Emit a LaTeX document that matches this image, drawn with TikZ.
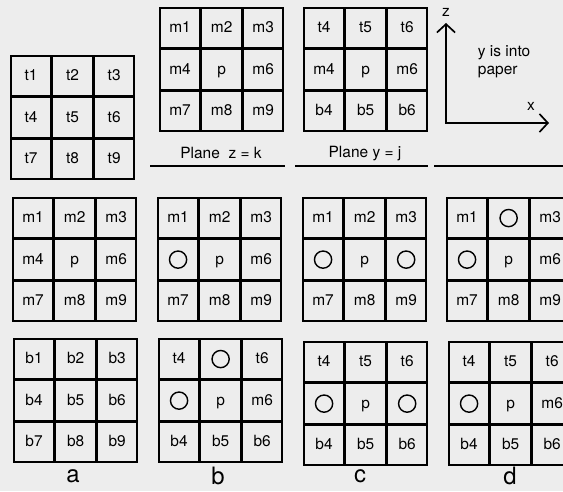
\documentclass[tikz,border=0pt]{standalone}
\usepackage{fontspec}
\setmainfont{TeX Gyre Heros}
\usepackage{tikz}
\usetikzlibrary{matrix, arrows.meta}

\begin{document}
\begin{tikzpicture}[
        x=0.025cm, y=-0.025cm,
        grid/.style={matrix of nodes, nodes in empty cells, anchor=north west,
            inner sep=0pt, column sep=0pt, row sep=0pt,
            nodes={draw, line width=1.1pt, minimum size=1cm, outer sep=0pt, inner sep=0pt,
                text height=1.6ex, text depth=0.3ex, font=\fontsize{11}{13}\selectfont}},
        hole/.style={circle, draw, line width=1pt, minimum size=0.43cm, inner sep=0pt},
        plane/.style={font=\fontsize{11}{13}\selectfont},
        tag/.style={font=\fontsize{17}{20}\selectfont},
        rule/.style={line width=1.2pt},
        axis/.style={line width=1.2pt, {Straight Barb[length=6pt, width=13pt]}-{Straight Barb[length=6pt, width=13pt]}}
    ]
        \useasboundingbox (0,0) rectangle (563,491);
        \fill[black!7] (0,0) rectangle (563,491);
        \clip (0,0) rectangle (563,491);

        % Planes
        \matrix[grid] (tp) at (10,55) {t1 & t2 & t3\\ t4 & t5 & t6\\ t7 & t8 & t9\\};
        \matrix[grid] (zp) at (159,7) {m1 & m2 & m3\\ m4 & p & m6\\ m7 & m8 & m9\\};
        \matrix[grid] (yp) at (303,7) {t4 & t5 & t6\\ m4 & p & m6\\ b4 & b5 & b6\\};
        \node[plane] (zlabel) at (221,153) {Plane\ \ z = k};
        \node[plane] (ylabel) at (365,154) {Plane y = j};
        \draw[rule] (150,166) -- (285,166);
        \draw[rule] (295,166) -- (428,166);
        \draw[rule] (434,166) -- (563,166);

        % Axes
        \coordinate (o) at (446,123);
        \coordinate (ztip) at (446,23);
        \coordinate (xtip) at (549,123);
        \draw[axis] (ztip) -- (o) -- (xtip);
        \node[plane] (zname) at (446,12) {z};
        \node[plane] (xname) at (531,106) {x};
        \node[plane, align=left, anchor=west] (note) at (473,62) {y is into\\paper};

        % Middle row
        \matrix[grid] (ma) at (12,197) {m1 & m2 & m3\\ m4 & p & m6\\ m7 & m8 & m9\\};
        \matrix[grid] (mb) at (157,197) {m1 & m2 & m3\\ & p & m6\\ m7 & m8 & m9\\};
        \matrix[grid] (mc) at (302,197) {m1 & m2 & m3\\ & p & \\ m7 & m8 & m9\\};
        \matrix[grid] (md) at (446,197) {m1 & & m3\\ & p & m6\\ m7 & m8 & m9\\};

        % Bottom row
        \matrix[grid] (ba) at (13,338) {b1 & b2 & b3\\ b4 & b5 & b6\\ b7 & b8 & b9\\};
        \matrix[grid] (bb) at (158,338) {t4 & & t6\\ & p & m6\\ b4 & b5 & b6\\};
        \matrix[grid] (bc) at (303,341) {t4 & t5 & t6\\ & p & \\ b4 & b5 & b6\\};
        \matrix[grid] (bd) at (448,341) {t4 & t5 & t6\\ & p & m6\\ b4 & b5 & b6\\};

        % Removed neighbours
        \node[hole] (hmb) at (mb-2-1) {};
        \node[hole] (hmc1) at (mc-2-1) {};
        \node[hole] (hmc2) at (mc-2-3) {};
        \node[hole] (hmd1) at (md-1-2) {};
        \node[hole] (hmd2) at (md-2-1) {};
        \node[hole] (hbb1) at (bb-1-2) {};
        \node[hole] (hbb2) at (bb-2-1) {};
        \node[hole] (hbc1) at (bc-2-1) {};
        \node[hole] (hbc2) at (bc-2-3) {};
        \node[hole] (hbd) at (bd-2-1) {};

        % Cases
        \node[tag] (la) at (73,476) {a};
        \node[tag] (lb) at (218,476) {b};
        \node[tag] (lc) at (360,476) {c};
        \node[tag] (ld) at (510,476) {d};
    \end{tikzpicture}
\end{document}
